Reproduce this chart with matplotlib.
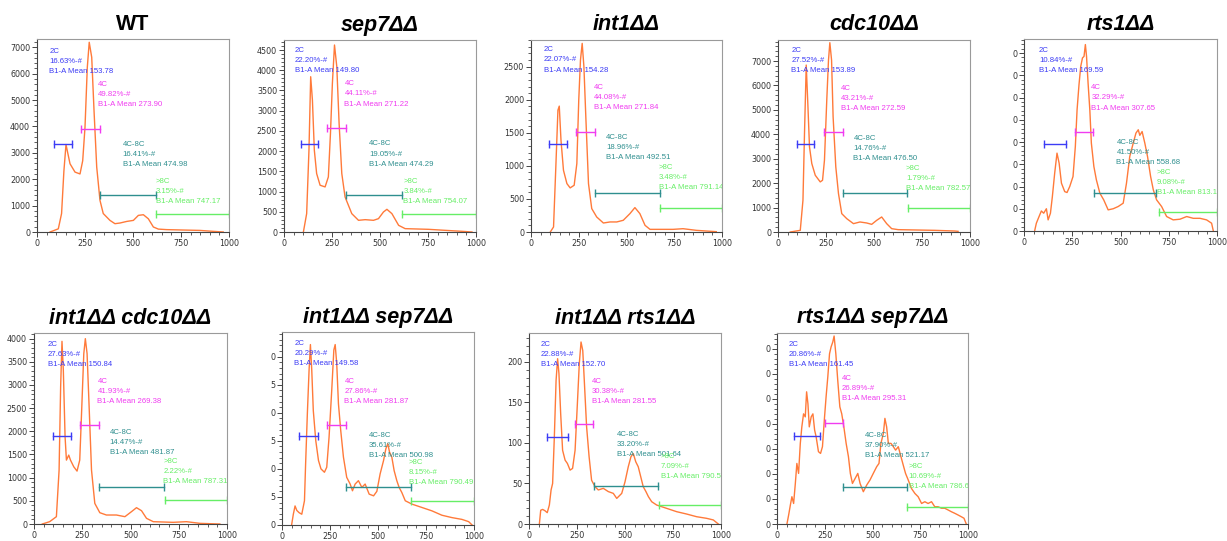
import matplotlib
matplotlib.use("Agg")
import matplotlib.pyplot as plt
from matplotlib.ticker import MultipleLocator, AutoMinorLocator, FuncFormatter

# ---------------- data ----------------
titles = ["WT", "sep7ΔΔ", "int1ΔΔ", "cdc10ΔΔ", "rts1ΔΔ",
          "int1ΔΔ cdc10ΔΔ", "int1ΔΔ sep7ΔΔ", "int1ΔΔ rts1ΔΔ", "rts1ΔΔ sep7ΔΔ"]

wt_x = [68, 111, 128, 140, 151, 160, 172, 198, 224, 238, 250, 262, 272, 285, 297, 311, 328, 345,
        380, 406, 432, 467, 502, 528, 554, 580, 606, 632, 675, 760, 849, 918, 970]
wt_y = [0, 120, 700, 2300, 3316, 3000, 2585, 2270, 2200, 2700, 3970, 6240, 7190, 6620, 4600, 2460,
        1200, 700, 440, 315, 340, 400, 440, 630, 655, 500, 190, 110, 90, 75, 60, 25, 0]

sep7_x = [101, 118, 130, 139, 148, 158, 170, 188, 214, 231, 242, 252, 263, 275, 287, 301, 318, 353,
          388, 423, 466, 492, 518, 536, 562, 597, 631, 753, 840, 927, 979]
sep7_y = [0, 454, 2023, 3840, 3262, 2023, 1445, 1156, 1115, 1362, 2436, 3675, 4624, 4087, 2684,
          1445, 867, 454, 289, 305, 289, 330, 495, 561, 454, 165, 83, 66, 41, 17, 0]

int1_x = [101, 118, 130, 141, 148, 157, 170, 188, 205, 226, 240, 250, 259, 268, 277, 287, 301, 318,
          344, 379, 414, 449, 483, 518, 544, 570, 597, 623, 744, 796, 866, 970]
int1_y = [0, 76, 985, 1843, 1904, 1389, 934, 732, 667, 707, 1035, 1995, 2601, 2853, 2500, 1742,
          732, 354, 227, 136, 152, 152, 177, 278, 369, 278, 101, 40, 40, 50, 25, 5]

cdc10_x = [64, 116, 130, 138, 147, 156, 164, 176, 194, 220, 232, 242, 254, 263, 270, 279, 287, 301,
           315, 332, 358, 393, 427, 462, 488, 514, 540, 566, 592, 626, 816, 920, 938]
cdc10_y = [0, 68, 1300, 4033, 6836, 5127, 3486, 2803, 2324, 2051, 2119, 2940, 5400, 7041, 7752,
           7041, 4717, 2666, 1572, 752, 547, 342, 410, 369, 314, 478, 615, 342, 137, 96, 68, 41, 27]

rts1_x = [55, 64, 78, 90, 102, 116, 125, 137, 147, 159, 171, 182, 194, 211, 223, 237, 254, 266, 275,
          285, 294, 303, 311, 318, 324, 332, 341, 349, 362, 375, 393, 413, 436, 462, 488, 514, 531,
          548, 566, 580, 592, 600, 612, 626, 640, 656, 670, 687, 713, 739, 773, 808, 843, 877, 912,
          946, 972, 981]
rts1_y = [0, 3.5, 6.5, 9, 8, 10, 5, 8, 15.5, 26, 35, 30.5, 21.5, 17.7, 17.3, 20, 24.5, 38, 54.5,
          65.8, 74, 77.8, 78.5, 83.8, 78.5, 66.5, 54.5, 39.5, 29, 23, 17, 14, 9.5, 10, 11, 12.5,
          21.5, 33.5, 39.5, 44, 45.5, 43, 44.7, 39.5, 33.5, 24.5, 18.5, 14, 11, 6.5, 5, 5.3, 6.5,
          5.7, 5.7, 5, 3.5, 0]

i1c10_x = [43, 81, 116, 130, 138, 145, 152, 161, 168, 180, 189, 206, 223, 237, 247, 258, 266, 275,
           285, 298, 315, 341, 375, 427, 471, 505, 531, 557, 583, 618, 721, 790, 860, 963]
i1c10_y = [0, 50, 158, 1163, 2958, 3942, 3318, 1882, 1379, 1487, 1379, 1235, 1142, 1379, 2456,
           3677, 4000, 3677, 2600, 1163, 445, 244, 194, 194, 158, 266, 352, 287, 122, 50, 36, 50,
           14, 0]

i1s7_x = [50, 59, 68, 77, 89, 103, 117, 123, 132, 141, 148, 155, 163, 176, 190, 203, 221, 233, 245,
          259, 270, 277, 285, 294, 306, 320, 337, 355, 367, 381, 398, 416, 433, 454, 477, 494, 511,
          529, 541, 551, 560, 572, 584, 598, 610, 624, 642, 677, 729, 781, 833, 885, 937, 972, 990]
i1s7_y = [0, 9.6, 17, 13, 11, 9.6, 21.6, 54.5, 99, 138, 160.8, 138, 102, 75, 57.5, 50, 47, 51.5,
          78, 120, 156, 160.8, 144, 108, 84, 60.5, 42.5, 36.5, 30.5, 36.5, 39.5, 33.5, 36.5, 27.5,
          26, 30, 45.5, 57.5, 68, 72.5, 65, 60.5, 48.5, 39.5, 33.5, 29, 21.6, 18.6, 15.6, 12.6,
          8.7, 6.6, 5, 3, 0]

i1r1_x = [54, 61, 71, 83, 95, 106, 115, 123, 132, 141, 149, 156, 165, 175, 188, 200, 214, 227, 240,
          252, 262, 271, 280, 288, 300, 313, 326, 344, 361, 387, 413, 439, 457, 483, 500, 517, 531,
          543, 556, 569, 582, 595, 609, 622, 639, 665, 717, 769, 821, 873, 925, 960, 986]
i1r1_y = [0, 17, 18, 16.4, 14, 23.4, 42, 50, 107.6, 177, 204, 185.6, 136, 91, 78.8, 74.7, 66.5,
          68.6, 91, 148.7, 198, 224.6, 214, 177, 120, 83, 54, 46, 42, 44, 40, 37.8, 31.6, 37.8, 52,
          70.6, 83, 87, 76.8, 70.6, 58.3, 46, 40, 33.7, 27.5, 23.4, 19.3, 15.2, 12.3, 9, 7, 5, 0]

r1s7_x = [52, 61, 70, 78, 87, 96, 104, 113, 122, 130, 139, 148, 155, 162, 169, 179, 188, 197, 205,
          217, 228, 238, 249, 257, 266, 275, 283, 292, 299, 308, 318, 329, 339, 350, 362, 374, 384,
          395, 409, 423, 435, 452, 470, 487, 504, 522, 534, 544, 557, 565, 574, 583, 597, 609, 621,
          635, 649, 661, 673, 687, 704, 722, 739, 757, 774, 791, 809, 826, 843, 861, 878, 896, 913,
          930, 948, 965, 979, 991]
r1s7_y = [0, 3.6, 7.6, 10.9, 8.2, 16.2, 24.2, 20.2, 32.2, 38.8, 44, 42.8, 52.8, 48, 38.8, 42.8, 44,
          37.5, 34.8, 28.9, 28.2, 30.9, 42.8, 50.8, 58.8, 68, 70.7, 72.7, 75.1, 68, 57.4, 46.8, 44,
          38.8, 32.2, 26.9, 20.2, 16.2, 18.2, 20.2, 16.2, 12.9, 15.6, 17.6, 20.2, 22.9, 24.2, 32.2,
          36.2, 42.2, 38.8, 32.2, 32.2, 30.9, 29.5, 30.9, 26.9, 23.5, 20.2, 17.6, 14.2, 12.2, 10.9,
          8.2, 8.9, 8.2, 8.9, 6.9, 6.9, 6.3, 6.3, 5.6, 4.9, 4.3, 3.6, 2.9, 2.3, 0]

curves_x = [wt_x, sep7_x, int1_x, cdc10_x, rts1_x, i1c10_x, i1s7_x, i1r1_x, r1s7_x]
curves_y = [wt_y, sep7_y, int1_y, cdc10_y, rts1_y, i1c10_y, i1s7_y, i1r1_y, r1s7_y]

y_max = [7314, 4748, 2904, 7862, 86.3, 4122, 172, 235.7, 76.3]
y_step = [1000, 500, 500, 1000, 10, 500, 25, 50, 10]
# panels whose tick labels are cut down to the final digit
last_digit_only = [False, False, False, False, True, False, True, False, True]

gate_names = ["2C", "4C", "4C-8C", ">8C"]
gate_percent = [
    ["16.63", "49.82", "16.41", "3.15"],
    ["22.20", "44.11", "19.05", "3.84"],
    ["22.07", "44.08", "18.96", "3.48"],
    ["27.52", "43.21", "14.76", "1.79"],
    ["10.84", "32.29", "41.50", "9.08"],
    ["27.63", "41.93", "14.47", "2.22"],
    ["20.29", "27.86", "35.61", "8.15"],
    ["22.88", "30.38", "33.20", "7.09"],
    ["20.86", "26.89", "37.90", "10.69"],
]
gate_mean = [
    ["153.78", "273.90", "474.98", "747.17"],
    ["149.80", "271.22", "474.29", "754.07"],
    ["154.28", "271.84", "492.51", "791.14"],
    ["153.89", "272.59", "476.50", "782.57"],
    ["169.59", "307.65", "558.68", "813.18"],
    ["150.84", "269.38", "481.87", "787.31"],
    ["149.58", "281.87", "500.98", "790.49"],
    ["152.70", "281.55", "501.64", "790.52"],
    ["161.45", "295.31", "521.17", "786.60"],
]
# gate ranges (x0, x1) on the B1-A axis
gate_ranges = [
    [(90, 182), (229, 328), (326, 618), (618, 1000)],
    [(87, 176), (226, 323), (323, 614), (614, 1000)],
    [(94, 191), (238, 337), (337, 678), (678, 1000)],
    [(99, 190), (237, 336), (336, 673), (676, 1000)],
    [(104, 216), (263, 358), (362, 682), (701, 1000)],
    [(99, 194), (240, 337), (337, 675), (678, 1000)],
    [(90, 186), (233, 334), (334, 671), (671, 1000)],
    [(92, 201), (238, 335), (339, 674), (677, 1000)],
    [(87, 226), (249, 348), (343, 682), (682, 1000)],
]
# gate bar heights (counts)
gate_levels = [
    [3316, 3922, 1387, 694],
    [2172, 2560, 925, 454],
    [1338, 1515, 591, 369],
    [3623, 4102, 1600, 998],
    [39.2, 44.3, 17.3, 8.6],
    [1903, 2147, 804, 517],
    [79.3, 89.5, 33.5, 21.6],
    [107.6, 122.8, 46.8, 23.0],
    [35.1, 40.4, 14.9, 6.9],
]

# ---------------- layout ----------------
W, H = 1227, 541
label_pos = [  # (x on B1-A axis, y as axes fraction) for each gate label
    [(64, 0.955), (316, 0.783), (446, 0.473), (618, 0.279)],
    [(57, 0.964), (315, 0.790), (443, 0.477), (621, 0.282)],
    [(66, 0.967), (330, 0.772), (393, 0.511), (668, 0.355)],
    [(69, 0.964), (329, 0.767), (393, 0.507), (666, 0.351)],
    [(78, 0.960), (349, 0.764), (479, 0.478), (687, 0.322)],
    [(73, 0.960), (329, 0.763), (393, 0.498), (670, 0.345)],
    [(64, 0.958), (325, 0.762), (454, 0.484), (659, 0.344)],
    [(61, 0.960), (326, 0.763), (457, 0.486), (686, 0.371)],
    [(61, 0.960), (339, 0.780), (461, 0.484), (690, 0.319)],
]
# axes boxes in pixels: left, top, right, bottom
boxes = [
    (37, 39, 229, 232), (284, 40, 476, 232), (531, 40, 722, 232), (778, 40, 970, 232),
    (1024, 39, 1217, 231),
    (34, 333, 227, 524), (282, 332, 474, 525), (529, 333, 721, 524), (777, 333, 968, 524),
]
title_y = [25, 25, 25, 25, 25, 318, 318, 318, 318]

gate_colors = ["#3c3cf5", "#f03cf0", "#2f8f8f", "#66ee66"]
line_color = "#ff7a3a"

fig = plt.figure(figsize=(W / 100, H / 100), dpi=100)
fig.patch.set_facecolor("white")

for i in range(9):
    l, t, r, b = boxes[i]
    ax = fig.add_axes([l / W, 1 - b / H, (r - l) / W, (b - t) / H])
    ax.plot(curves_x[i], curves_y[i], color=line_color, lw=1.0, solid_joinstyle="round")
    ax.set_xlim(0, 1000)
    ax.set_ylim(0, y_max[i])
    ax.xaxis.set_major_locator(MultipleLocator(250))
    ax.xaxis.set_minor_locator(MultipleLocator(50))
    ax.yaxis.set_major_locator(MultipleLocator(y_step[i]))
    ax.yaxis.set_minor_locator(AutoMinorLocator(5))
    if last_digit_only[i]:
        ax.yaxis.set_major_formatter(FuncFormatter(lambda v, p: str(int(round(v)))[-1]))
    else:
        ax.yaxis.set_major_formatter(FuncFormatter(lambda v, p: str(int(round(v)))))
    ax.tick_params(which="major", length=3.5, width=0.7, color="#444444",
                   labelsize=5.8, labelcolor="#333333", pad=1.5)
    ax.tick_params(which="minor", length=2, width=0.6, color="#444444")
    for s in ["left", "bottom"]:
        ax.spines[s].set_color("#444444")
        ax.spines[s].set_linewidth(0.8)
    for s in ["top", "right"]:
        ax.spines[s].set_color("#9a9a9a")
        ax.spines[s].set_linewidth(0.8)

    xt = ax.get_xaxis_transform()
    for g in range(4):
        x0, x1 = gate_ranges[i][g]
        lvl = gate_levels[i][g]
        c = gate_colors[g]
        ax.plot([x0, x1], [lvl, lvl], color=c, lw=1.0, clip_on=True)
        ax.plot([x0, x1], [lvl, lvl], linestyle="none", marker="|", markersize=6,
                markeredgewidth=1.0, color=c, clip_on=True)
        tx, ty = label_pos[i][g]
        ax.text(tx, ty, f"{gate_names[g]}\n{gate_percent[i][g]}%-#\nB1-A Mean {gate_mean[i][g]}",
                transform=xt, color=c, fontsize=5.6, family="Liberation Sans",
                va="top", ha="left", linespacing=1.62, clip_on=True)

    style = "normal" if titles[i] == "WT" else "italic"
    fig.text((l + r) / 2 / W, 1 - title_y[i] / H, titles[i], ha="center", va="center",
             fontsize=15.5, fontweight="bold", style=style,
             family=["Liberation Sans", "DejaVu Sans"])

fig.savefig("out.png", dpi=100, facecolor="white")
